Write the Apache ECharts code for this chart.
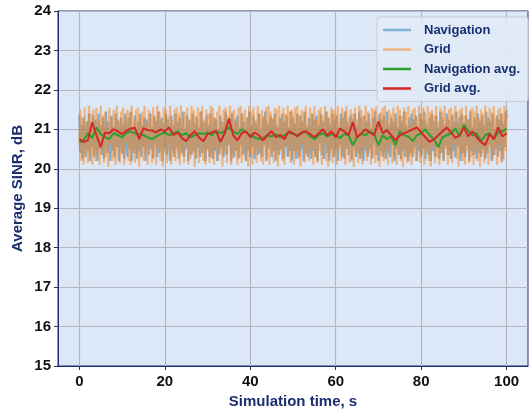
<!DOCTYPE html>
<html><head><meta charset="utf-8">
<script src="https://cdn.jsdelivr.net/npm/echarts@6/dist/echarts.min.js"></script>
<style>html,body{margin:0;padding:0;background:#fff}#c{width:531px;height:414px}</style>
</head><body><div id="c"></div>
<script>
const xTicks = [0, 20, 40, 60, 80, 100];
const yTicks = [15, 16, 17, 18, 19, 20, 21, 22, 23, 24];
const seriesNames = ['Navigation', 'Grid', 'Navigation avg.', 'Grid avg.'];
const rawStep = 0.25;  // seconds between raw samples
const avgStep = 1;     // seconds between averaged samples
const navigationRaw = [
21.35,20.4,21.1,20.25,21.3,20.6,20.3,21.2,20.45,21.4,20.2,21.0,20.55,21.35,20.3,21.25,20.7,20.2,21.4,20.5,
21.1,20.35,21.3,20.25,20.9,21.45,20.4,21.2,20.6,20.2,21.35,20.45,21.05,20.3,21.4,20.55,21.25,20.2,20.95,21.3,
20.4,21.15,20.25,21.4,20.65,20.3,21.3,20.5,21.45,20.2,21.0,20.4,21.35,20.6,20.25,21.2,20.45,21.4,20.3,21.1,
20.55,21.3,20.2,21.25,20.7,20.35,21.4,20.5,21.05,20.25,21.35,20.6,21.2,20.3,21.45,20.4,20.9,21.3,20.2,21.15,
20.5,21.4,20.35,21.25,20.65,20.2,21.35,20.45,21.1,20.3,21.4,20.55,21.2,20.25,21.3,20.7,20.4,21.45,20.3,21.0,
20.5,21.35,20.2,21.25,20.6,20.35,21.4,20.45,21.15,20.25,21.3,20.55,21.05,20.3,21.45,20.4,21.2,20.65,20.2,21.35,
20.5,21.1,20.3,21.4,20.6,20.25,21.3,20.45,21.25,20.2,21.0,20.4,21.35,20.55,21.2,20.3,20.9,21.45,20.35,21.15,
20.6,21.3,20.2,21.4,20.5,20.3,21.25,20.45,21.35,20.25,21.05,20.6,21.4,20.35,21.2,20.5,20.2,21.3,20.45,21.45,
20.3,21.1,20.55,21.35,20.25,21.2,20.7,20.35,21.4,20.4,21.0,20.3,21.3,20.6,21.45,20.2,21.15,20.5,20.95,21.35,
20.3,21.25,20.45,21.4,20.2,21.1,20.6,20.35,21.3,20.5,21.4,20.25,21.2,20.55,21.35,20.3,21.05,20.45,21.45,20.2,
21.3,20.45,21.15,20.25,21.4,20.6,20.3,21.35,20.5,21.2,20.2,21.45,20.4,21.05,20.3,21.3,20.55,20.25,21.4,20.45,
21.25,20.3,21.35,20.2,21.1,20.65,21.4,20.35,21.2,20.25,20.95,21.45,20.4,21.3,20.2,21.15,20.5,21.4,20.3,21.25,
20.45,21.35,20.2,21.05,20.6,21.4,20.3,21.3,20.25,21.45,20.5,21.2,20.35,20.9,21.35,20.2,21.25,20.55,21.4,20.3,
21.1,20.4,21.45,20.25,21.3,20.6,20.2,21.35,20.45,21.2,20.3,21.4,20.5,21.0,20.25,21.3,20.65,21.45,20.35,21.15,
20.2,21.4,20.45,21.25,20.3,21.35,20.55,20.25,21.45,20.4,21.1,20.3,21.3,20.6,21.2,20.2,21.4,20.5,21.05,20.35,
21.35,20.25,21.2,20.45,21.45,20.3,21.1,20.6,20.2,21.3,20.4,21.4,20.3,21.25,20.55,21.35,20.2,21.0,20.45,21.4,
20.3,21.25,20.5,21.45,20.25,21.15,20.65,20.35,21.3,20.2,21.4,20.45,21.2,20.3,21.35,20.55,21.05,20.25,21.45,20.4,
21.3,20.2,21.1,20.6,21.4,20.35,21.25,20.5,20.25,21.35,20.45,21.2,20.3,21.45,20.55,20.95,21.3,20.2,21.4,20.4,
21.15,20.3,21.35,20.6,21.25,20.2,21.45,20.45,21.05,20.35,21.3,20.55,20.25,21.4,20.4,21.2,20.3,21.35,20.5,21.1,
20.25,21.45,20.4,21.3,20.6,21.2,20.2,21.4,20.35,21.0,20.5,21.35,20.3,21.25,20.45,21.4,20.2,21.15,20.55,21.45,
21.3];
const gridRaw = [
20.6,21.5,20.2,21.3,20.1,21.55,20.45,21.2,20.15,21.6,20.35,21.4,20.1,21.5,20.7,20.2,21.55,20.4,21.25,20.1,
21.6,20.5,21.35,20.15,21.45,20.3,21.1,20.05,21.55,20.6,21.3,20.2,21.5,20.4,20.1,21.6,20.55,21.2,20.15,21.45,
20.35,21.55,20.1,21.3,20.65,21.5,20.2,21.4,20.1,21.6,20.45,21.25,20.15,21.5,20.3,21.55,20.05,21.35,20.6,21.45,
20.2,21.6,20.4,21.15,20.1,21.5,20.55,21.4,20.15,21.55,20.3,21.3,20.1,21.6,20.5,21.45,20.2,21.2,20.05,21.55,
20.4,21.5,20.15,21.35,20.65,21.6,20.1,21.25,20.3,21.5,20.2,21.55,20.45,21.4,20.1,21.6,20.35,21.3,20.15,21.45,
20.55,21.55,20.1,21.2,20.25,21.6,20.4,21.5,20.05,21.35,20.3,21.55,20.15,21.45,20.6,21.6,20.2,21.25,20.1,21.5,
20.45,21.4,20.15,21.6,20.3,21.55,20.1,21.3,20.5,21.45,20.2,21.6,20.35,21.15,20.05,21.5,20.4,21.55,20.15,21.35,
20.6,21.6,20.1,21.45,20.25,21.5,20.45,21.2,20.1,21.55,20.3,21.6,20.15,21.4,20.55,21.5,20.2,21.3,20.05,21.6,
20.4,21.45,20.1,21.55,20.35,21.25,20.15,21.6,20.5,21.4,20.2,21.5,20.1,21.35,20.6,21.55,20.25,21.6,20.1,21.45,
20.4,21.3,20.15,21.55,20.3,21.5,20.05,21.6,20.45,21.2,20.2,21.55,20.1,21.4,20.55,21.6,20.3,21.45,20.15,21.5,
21.2,20.1,21.55,20.4,21.6,20.25,21.35,20.05,21.5,20.6,21.45,20.15,21.6,20.35,21.1,20.2,21.55,20.5,21.4,20.1,
21.6,20.3,21.25,20.15,21.5,20.45,21.55,20.1,21.35,20.65,21.6,20.2,21.45,20.05,21.3,20.4,21.55,20.15,21.5,20.3,
21.4,20.1,21.6,20.5,21.2,20.2,21.55,20.35,21.45,20.1,21.6,20.6,21.3,20.15,21.5,20.25,21.4,20.05,21.55,20.45,
21.25,20.15,21.6,20.3,21.5,20.1,21.35,20.55,21.6,20.2,21.45,20.4,21.15,20.1,21.55,20.3,21.5,20.15,21.6,20.5,
21.3,20.05,21.45,20.35,21.55,20.2,21.6,20.45,21.25,20.1,21.5,20.6,21.4,20.15,21.55,20.3,21.2,20.1,21.6,20.4,
21.5,20.2,21.35,20.05,21.55,20.5,21.45,20.15,21.6,20.3,21.1,20.1,21.5,20.4,21.55,20.2,21.3,20.6,21.6,20.15,
21.4,20.35,21.55,20.1,21.25,20.45,21.6,20.2,21.45,20.05,21.5,20.55,21.35,20.15,21.6,20.3,21.2,20.1,21.55,20.4,
21.45,20.2,21.6,20.5,21.3,20.1,21.5,20.35,21.55,20.15,21.4,20.6,21.6,20.25,21.15,20.05,21.5,20.4,21.55,20.2,
21.35,20.1,21.6,20.45,21.25,20.15,21.5,20.3,21.55,20.1,21.45,20.55,21.6,20.2,21.3,20.05,21.5,20.4,21.4,20.15,
21.6,20.3,21.2,20.1,21.55,20.5,21.45,20.2,21.6,20.35,21.3,20.1,21.5,20.6,21.55,20.15,21.4,20.25,21.6,20.45,
21.5];
const navigationAvg = [
20.68,20.72,20.9,20.78,21.05,20.88,20.8,20.75,20.9,20.85,
20.8,20.9,20.95,20.9,20.88,20.85,20.8,20.75,20.82,20.88,
20.92,20.85,20.9,20.95,20.85,20.9,20.8,20.85,20.9,20.88,
20.92,20.85,20.95,20.9,20.95,21.05,20.95,20.88,21.0,20.92,
20.85,20.8,20.75,20.78,20.85,20.82,20.88,20.8,20.85,20.92,
20.88,20.85,20.9,20.95,20.82,20.75,20.85,20.9,20.82,20.88,
20.85,20.78,20.88,20.85,20.6,20.8,20.88,20.85,20.95,20.88,
20.6,20.85,20.75,20.82,20.6,20.95,20.85,20.82,20.7,20.85,
20.9,21.0,20.85,20.75,20.55,20.8,20.85,20.9,21.02,20.82,
21.12,20.95,20.85,20.9,20.7,20.85,20.9,20.75,20.92,20.95,
21.02];
const gridAvg = [
20.75,20.68,20.72,21.18,20.85,20.55,20.92,20.9,21.0,20.95,
20.88,20.96,21.02,21.04,20.75,21.03,20.98,20.97,20.92,21.0,
20.95,21.05,20.85,20.92,20.78,20.7,20.85,20.95,20.8,20.7,
20.88,20.92,20.96,20.68,20.9,21.27,20.85,20.72,20.9,20.95,
20.8,20.92,20.85,20.72,20.85,20.95,20.8,20.86,20.75,20.95,
20.9,20.82,20.92,20.95,20.88,20.8,20.9,21.0,20.85,20.95,
20.8,21.02,20.95,20.85,21.18,20.8,20.9,21.0,20.92,20.85,
21.2,20.9,20.98,20.85,20.72,20.85,20.9,20.95,21.0,21.05,
20.92,20.8,20.68,20.75,20.85,20.95,21.05,20.92,20.78,20.85,
21.05,20.82,20.95,20.8,20.68,20.6,20.88,20.75,21.05,20.82,
20.9];

function pairs(vals, step) { return vals.map((v, i) => [i * step, v]); }

const navy = '#1a2f6e';
const font = '"Liberation Sans", Arial, sans-serif';
const chart = echarts.init(document.getElementById('c'), null, {renderer: 'canvas'});
chart.setOption({
  animation: false,
  backgroundColor: '#ffffff',
  grid: {left: 58, right: 3, top: 11, bottom: 48, show: true, backgroundColor: '#dce8f7', borderColor: navy, borderWidth: 1},
  xAxis: {
    type: 'value', min: -5, max: 105,
    name: 'Simulation time, s', nameLocation: 'middle', nameGap: 28, nameMoveOverlap: false,
    nameTextStyle: {color: navy, fontWeight: 'bold', fontSize: 15, fontFamily: font},
    axisLine: {show: true, onZero: false, lineStyle: {color: navy, width: 1}},
    axisTick: {show: true, customValues: xTicks, length: 4, lineStyle: {color: '#333'}},
    axisLabel: {customValues: xTicks, color: '#111', fontWeight: 'bold', fontSize: 15, fontFamily: font, margin: 8},
    splitLine: {show: true, lineStyle: {color: '#b4b8be', width: 1.2}}
  },
  yAxis: {
    type: 'value', min: 15, max: 24, interval: 1,
    name: 'Average SINR, dB', nameLocation: 'middle', nameGap: 33, nameMoveOverlap: false,
    nameTextStyle: {color: navy, fontWeight: 'bold', fontSize: 15, fontFamily: font},
    axisLine: {show: true, onZero: false, lineStyle: {color: navy, width: 1}},
    axisTick: {show: true, length: 4, lineStyle: {color: '#333'}},
    axisLabel: {color: '#111', fontWeight: 'bold', fontSize: 15, fontFamily: font, margin: 7,
      formatter: v => yTicks.includes(v) ? String(v) : ''},
    splitLine: {show: true, lineStyle: {color: '#b4b8be', width: 1.2}}
  },
  legend: {
    orient: 'vertical', left: 377, top: 17,
    padding: [6, 8, 6, 6], itemGap: 5.5, itemWidth: 28, itemHeight: 2.5,
    backgroundColor: 'rgba(226,235,248,0.85)', borderColor: '#c8cdd4', borderWidth: 1, borderRadius: 3,
    icon: 'rect',
    textStyle: {color: navy, fontWeight: 'bold', fontSize: 13, fontFamily: font, padding: [0, 0, 0, 8], lineHeight: 14},
    data: seriesNames
  },
  series: [
    {name: seriesNames[0], type: 'line', data: pairs(navigationRaw, rawStep), showSymbol: false, symbol: 'none',
     lineStyle: {color: 'rgba(31,119,180,0.5)', width: 2.2}, itemStyle: {color: 'rgba(31,119,180,0.5)'}},
    {name: seriesNames[1], type: 'line', data: pairs(gridRaw, rawStep), showSymbol: false, symbol: 'none',
     lineStyle: {color: 'rgba(255,127,14,0.5)', width: 2.2}, itemStyle: {color: 'rgba(255,127,14,0.5)'}},
    {name: seriesNames[2], type: 'line', data: pairs(navigationAvg, avgStep), showSymbol: false, symbol: 'none',
     lineStyle: {color: '#2ca02c', width: 2}, itemStyle: {color: '#2ca02c'}},
    {name: seriesNames[3], type: 'line', data: pairs(gridAvg, avgStep), showSymbol: false, symbol: 'none',
     lineStyle: {color: '#d62728', width: 2}, itemStyle: {color: '#d62728'}}
  ]
});
</script></body></html>
